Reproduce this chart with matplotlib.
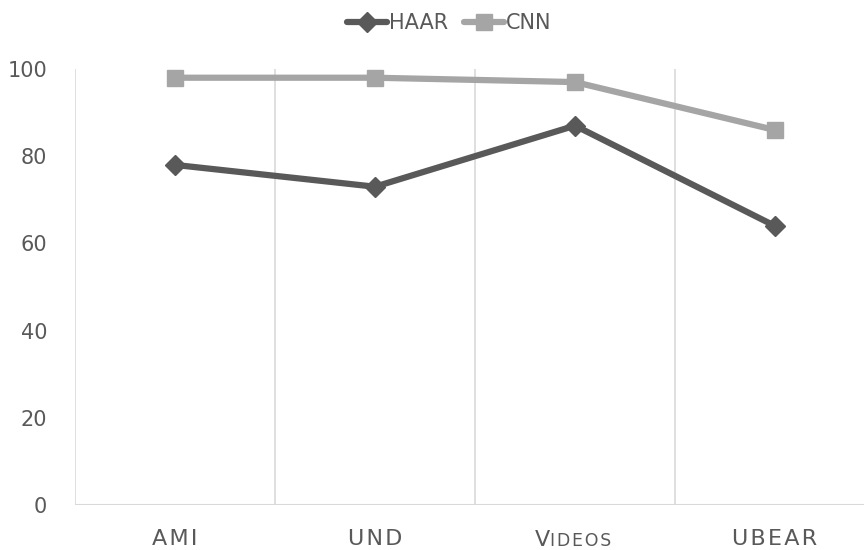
import matplotlib.pyplot as plt
import numpy as np

categories = ['AMI', 'UND', 'VIDEOS', 'UBEAR']
haar = [78, 73, 87, 64]
cnn = [98, 98, 97, 86]
yticks = [0, 20, 40, 60, 80, 100]

TXT = '#595959'
GRID = '#d9d9d9'
NARROW = ['Liberation Sans Narrow', 'DejaVu Sans']
SP = '\u200a'

fig = plt.figure(figsize=(8.64, 5.5), dpi=100)
# axes runs past the right edge like the original
ax = fig.add_axes([75 / 864, 45 / 550, 800 / 864, 436 / 550])

x = np.arange(len(categories))
ax.plot(x, haar, color='#595959', lw=4.5, marker='D', ms=10.5, label='HAAR',
        solid_joinstyle='round', solid_capstyle='round', zorder=3)
ax.plot(x, cnn, color='#a5a5a5', lw=4.5, marker='s', ms=11, label='CNN',
        solid_joinstyle='round', solid_capstyle='round', zorder=3)

ax.set_xlim(-0.5, len(categories) - 0.5)
ax.set_ylim(0, 100)
ax.set_yticks(yticks)

# vertical separators between categories
for b in np.arange(-0.5, len(categories), 1.0):
    ax.axvline(b, color=GRID, lw=1.2, zorder=1)

for s in ax.spines.values():
    s.set_visible(False)
ax.axhline(0, color=GRID, lw=1.5, zorder=1)

ax.tick_params(axis='both', length=0, labelsize=15, labelcolor=TXT)
ax.tick_params(axis='y', pad=20)
ax.set_xticks(x)
labels = [SP.join(c) if c != 'VIDEOS' else '' for c in categories]
ax.set_xticklabels(labels, family=NARROW, fontsize=16)
ax.tick_params(axis='x', pad=17)

# small caps look for VIDEOS
i = categories.index('VIDEOS')
ax.annotate('V', xy=(i, 0), xytext=(-18, -25), textcoords='offset points',
            ha='right', va='center', fontsize=16, color=TXT, family=NARROW)
ax.annotate(SP.join('IDEOS'), xy=(i, 0), xytext=(-18, -26),
            textcoords='offset points', ha='left', va='center',
            fontsize=12.5, color=TXT, family=NARROW)

fig.legend(loc='upper center', bbox_to_anchor=(0.52, 1.01), ncol=2, frameon=False,
           fontsize=15, labelcolor=TXT, handlelength=1.9, handletextpad=0.1,
           columnspacing=0.8)

fig.savefig('out.png', dpi=100)
